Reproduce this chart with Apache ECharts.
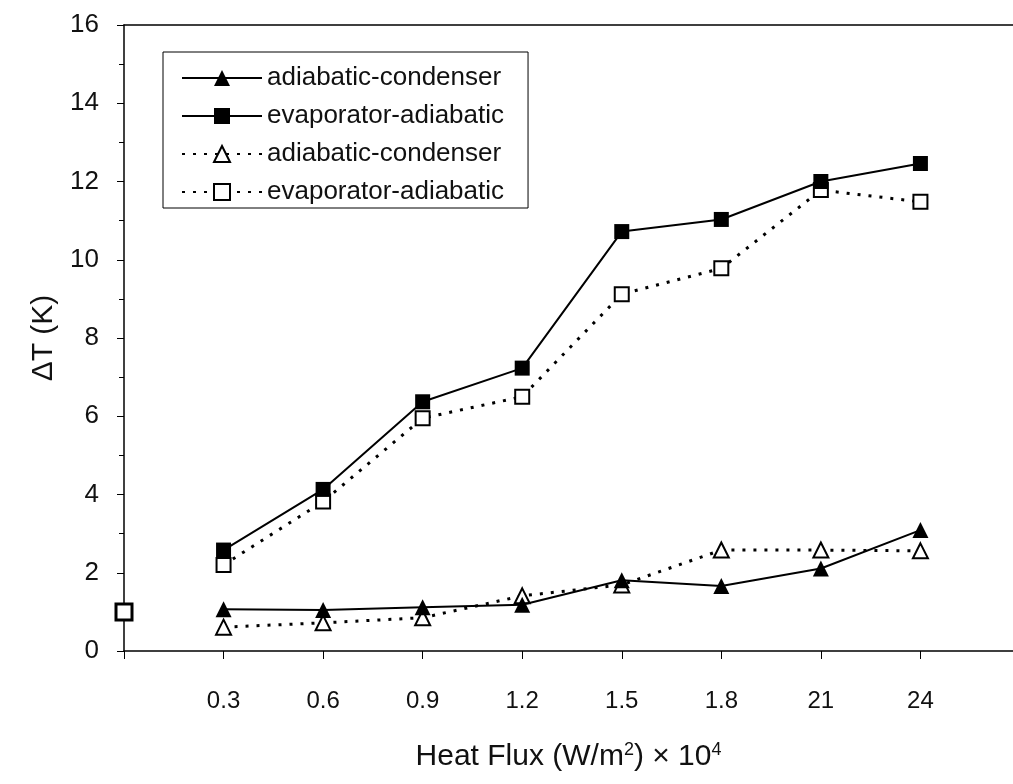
<!DOCTYPE html>
<html>
<head>
<meta charset="utf-8">
<script src="https://cdn.jsdelivr.net/npm/echarts@6/dist/echarts.min.js"></script>
<style>
  html, body { margin: 0; padding: 0; background: #fff; }
  #chart { width: 1013px; height: 784px; }
</style>
</head>
<body>
<div id="chart"></div>
<script>
// tick labels on the heat flux axis (first tick at the origin has no label)
var fluxLabels = ['', '0.3', '0.6', '0.9', '1.2', '1.5', '1.8', '21', '24'];

// measured points, one per labelled flux (0.3 ... 24)
var acSolid = [1.07, 1.05, 1.12, 1.18, 1.81, 1.66, 2.11, 3.09];
var eaSolid = [2.58, 4.13, 6.37, 7.23, 10.72, 11.03, 12.0, 12.46];
var acDotted = [0.61, 0.72, 0.85, 1.41, 1.69, 2.58, 2.58, 2.56];
var eaDotted = [2.2, 3.82, 5.95, 6.5, 9.12, 9.78, 11.78, 11.48];

// lone open square sitting on the y axis
var strayPoint = [0, 1.0];

var legendText = {
  acSolid: 'adiabatic-condenser',
  eaSolid: 'evaporator-adiabatic',
  acDotted: 'adiabatic-condenser',
  eaDotted: 'evaporator-adiabatic'
};

function toPoints(values) {
  var pts = [];
  for (var i = 0; i < values.length; i++) {
    pts.push([i + 1, values[i]]);
  }
  return pts;
}

var chart = echarts.init(document.getElementById('chart'));

var option = {
  animation: false,
  backgroundColor: '#fff',
  textStyle: { fontFamily: 'Liberation Sans, Arial, sans-serif', color: '#111' },
  grid: { left: 124, right: 0, top: 25, bottom: 133 },
  legend: {
    left: 163,
    top: 52,
    orient: 'vertical',
    data: ['acSolid', 'eaSolid', 'acDotted', 'eaDotted'],
    formatter: function (name) { return legendText[name]; },
    itemWidth: 80,
    itemHeight: 20,
    itemGap: 12,
    itemTextGap: 9,
    padding: [13, 24, 3, 18],
    borderColor: '#000',
    borderWidth: 1,
    textStyle: { fontSize: 26, color: '#111' }
  },
  xAxis: [{
    type: 'value',
    min: 0,
    max: 8.93,
    interval: 1,
    name: 'Heat Flux (W/m{sup|2}) × 10{sup|4}',
    nameLocation: 'middle',
    nameGap: 90,
    nameTextStyle: {
      fontSize: 30,
      color: '#111',
      rich: { sup: { fontSize: 18, verticalAlign: 'top', padding: [0, 0, 14, 0] } }
    },
    axisLine: { lineStyle: { color: '#000', width: 1.5 } },
    axisTick: { show: true, inside: false, length: 8, lineStyle: { color: '#000' } },
    axisLabel: {
      fontSize: 24,
      color: '#111',
      margin: 38,
      showMaxLabel: false,
      formatter: function (v) { return fluxLabels[v] || ''; }
    },
    splitLine: { show: false }
  }, {
    type: 'value',
    position: 'top',
    min: 0,
    max: 8.93,
    axisLine: { show: true, lineStyle: { color: '#000', width: 1.5 } },
    axisTick: { show: false },
    axisLabel: { show: false },
    splitLine: { show: false }
  }],
  yAxis: {
    type: 'value',
    min: 0,
    max: 16,
    interval: 2,
    name: 'ΔT (K)',
    nameLocation: 'middle',
    nameRotate: 90,
    nameGap: 64,
    nameTextStyle: { fontSize: 30, color: '#111' },
    axisLine: { show: true, lineStyle: { color: '#000', width: 1.5 } },
    axisTick: { show: true, inside: false, length: 7, lineStyle: { color: '#000' } },
    minorTick: { show: true, splitNumber: 2, length: 5, lineStyle: { color: '#000' } },
    axisLabel: { fontSize: 26, color: '#111', margin: 25 },
    splitLine: { show: false }
  },
  series: [{
    name: 'acSolid',
    type: 'line',
    data: toPoints(acSolid),
    symbol: 'triangle',
    symbolSize: 16,
    itemStyle: { color: '#000' },
    lineStyle: { color: '#000', width: 2, type: 'solid' },
    z: 4
  }, {
    name: 'eaSolid',
    type: 'line',
    data: toPoints(eaSolid),
    symbol: 'rect',
    symbolSize: 15,
    itemStyle: { color: '#000' },
    lineStyle: { color: '#000', width: 2, type: 'solid' },
    z: 4
  }, {
    name: 'acDotted',
    type: 'line',
    data: toPoints(acDotted),
    symbol: 'triangle',
    symbolSize: 15,
    itemStyle: { color: '#fff', borderColor: '#000', borderWidth: 2 },
    lineStyle: { color: '#000', width: 3, type: [3, 8] },
    z: 3
  }, {
    name: 'eaDotted',
    type: 'line',
    data: toPoints(eaDotted),
    symbol: 'rect',
    symbolSize: 14,
    itemStyle: { color: '#fff', borderColor: '#000', borderWidth: 2 },
    lineStyle: { color: '#000', width: 3, type: [3, 8] },
    z: 3
  }, {
    name: 'stray',
    type: 'scatter',
    data: [strayPoint],
    symbol: 'rect',
    symbolSize: 16,
    itemStyle: { color: '#fff', borderColor: '#000', borderWidth: 3, opacity: 1 },
    clip: false,
    z: 10
  }]
};

chart.setOption(option);
</script>
</body>
</html>
